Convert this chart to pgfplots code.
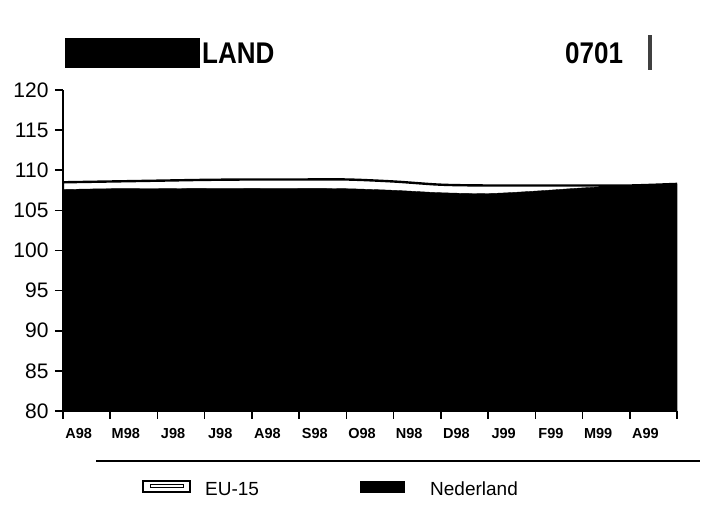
\documentclass[border=0pt]{standalone}
\usepackage{fontspec}
\setmainfont{Liberation Sans}
\usepackage{pgfplots}
\pgfplotsset{compat=1.18}

\begin{document}
\begin{tikzpicture}[x=1pt,y=1pt]
\path[use as bounding box] (0,0) rectangle (710,506);

% title strip (first part of the name is blacked out)
\fill (65,438) rectangle (200,468);
\node[anchor=base west, inner sep=0, font=\bfseries\fontsize{26}{30}\selectfont, yscale=1.15] at (202,442) {LAND};
\node[anchor=base west, inner sep=0, font=\bfseries\fontsize{26}{30}\selectfont, yscale=1.15] at (565,442) {0701};
\fill[black!75] (648,436) rectangle (652,471);

\begin{axis}[
    at={(63pt,95pt)}, anchor=south west,
    scale only axis,
    width=614pt, height=321pt,
    xmin=0, xmax=13,
    ymin=80, ymax=120,
    axis x line=bottom, axis y line=left,
    axis line style={-, line width=1.6pt},
    tick align=outside,
    major tick length=8pt,
    tick style={line width=1.6pt, black},
    xtick={0,1,...,13},
    xticklabels={},
    extra x ticks={0.33,1.33,2.33,3.33,4.33,5.33,6.33,7.33,8.33,9.33,10.33,11.33,12.33},
    extra x tick labels={A98,M98,J98,J98,A98,S98,O98,N98,D98,J99,F99,M99,A99},
    extra x tick style={
        major tick length=0pt,
        tick label style={font=\bfseries\fontsize{14.5}{16}\selectfont, yshift=-14pt}
    },
    ytick={80,85,...,120},
    yticklabel style={font=\fontsize{21}{24}\selectfont, xshift=-3pt},
    /pgf/number format/assume math mode=true,
]
    % EU-15
    \addplot[fill=white, draw=black, line width=2.4pt, smooth] coordinates {
        (0,108.5) (1,108.6) (2,108.7) (3,108.8) (4,108.85) (5,108.85) (6,108.85)
        (7,108.6) (8,108.2) (9,108.1) (10,108.1) (11,108.1) (12,108.1) (13,108.3)
    } \closedcycle;
    % Nederland
    \addplot[fill=black, draw=black, line width=0.4pt, smooth] coordinates {
        (0,107.6) (1,107.7) (2,107.7) (3,107.75) (4,107.75) (5,107.75) (6,107.7)
        (7,107.5) (8,107.2) (9,107.1) (10,107.4) (11,107.8) (12,108.1) (13,108.3)
    } \closedcycle;
\end{axis}

% legend
\draw[line width=1.2pt] (96,45) -- (700,45);
\draw[line width=1.5pt] (143,14) rectangle (190,25);
\draw[line width=1pt] (150,18) rectangle (183,21);
\node[anchor=base west, inner sep=0, font=\fontsize{19}{22}\selectfont] at (205,10) {EU-15};
\fill (360,13) rectangle (405,25);
\node[anchor=base west, inner sep=0, font=\fontsize{19}{22}\selectfont] at (430,10) {Nederland};
\end{tikzpicture}
\end{document}
